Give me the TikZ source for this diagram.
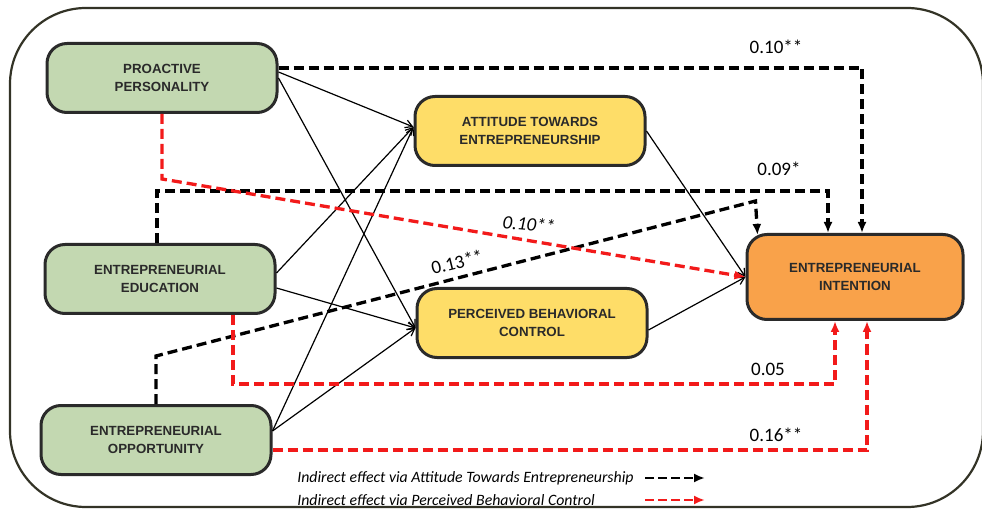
\documentclass[tikz,border=0pt]{standalone}
\usepackage{fontspec}
\setmainfont{Carlito}
\newfontfamily\boxfont{Liberation Sans}
\usepackage{xcolor}
\usetikzlibrary{arrows.meta, positioning, calc}
\definecolor{exogreen}{HTML}{C3D8B1}
\definecolor{mediyellow}{HTML}{FEDD68}
\definecolor{outorange}{HTML}{F9A24A}
\definecolor{boxline}{HTML}{2A2A2A}
\definecolor{pathred}{HTML}{F21A1A}

\begin{document}
\begin{tikzpicture}[x=1pt,y=-1pt,>={Straight Barb[length=7pt,width=8pt]},semithick]
          \tikzstyle{construct}=[draw=boxline,line width=3pt,rounded corners=20pt,align=center,
                                 font=\boxfont\bfseries\fontsize{13.3}{18}\selectfont,text=boxline,
                                 minimum width=230pt,minimum height=69pt]
          \tikzstyle{direct}=[->,line width=1.2pt]
          \tikzstyle{viaatt}=[-{Latex[length=11pt,width=9pt]},line width=3.3pt,dash pattern=on 10pt off 5pt]
          \tikzstyle{viapbc}=[viaatt,pathred]
          \tikzstyle{coef}=[font=\fontsize{19}{22}\selectfont,inner sep=0pt]
          \tikzstyle{legendtext}=[font=\itshape\fontsize{15.8}{18}\selectfont,inner sep=0pt,anchor=west]

          \clip (0,0) rectangle (982,510);
          \draw[line width=2.2pt,color=boxline!90!olive,rounded corners=76pt] (10,8) rectangle (983,507);

          % constructs
          \node[construct,fill=exogreen] (pp) at (162,78) {PROACTIVE\\PERSONALITY};
          \node[construct,fill=exogreen] (ee) at (160,279) {ENTREPRENEURIAL\\EDUCATION};
          \node[construct,fill=exogreen] (eo) at (156,440) {ENTREPRENEURIAL\\OPPORTUNITY};
          \node[construct,fill=mediyellow] (ate) at (530,131) {ATTITUDE TOWARDS\\ENTREPRENEURSHIP};
          \node[construct,fill=mediyellow] (pbc) at (532,323) {PERCEIVED BEHAVIORAL\\CONTROL};
          \node[construct,fill=outorange,minimum width=216pt,minimum height=85pt] (ei) at (855,277) {ENTREPRENEURIAL\\INTENTION};

          % direct paths
          \draw[direct] ($(pp.east)+(0,-6)$) -- ($(ate.west)+(0,-4)$);
          \draw[direct] (pp.east) -- ($(pbc.west)+(0,5)$);
          \draw[direct] ($(ee.east)+(0,-6)$) -- ($(ate.west)+(0,-4)$);
          \draw[direct] ($(ee.east)+(0,9)$) -- ($(pbc.west)+(0,5)$);
          \draw[direct] ($(eo.east)+(0,-9)$) -- ($(ate.west)+(0,-4)$);
          \draw[direct] ($(eo.east)+(0,-9)$) -- ($(pbc.west)+(0,5)$);
          \draw[direct] (ate.east) -- (ei.west);
          \draw[direct] ($(pbc.east)+(0,7)$) -- (ei.west);

          % indirect effects via attitude
          \draw[viaatt] ($(pp.east)+(0,-10)$) -| ($(ei.north)+(7,0)$);
          \draw[viaatt] ($(ee.north)+(-3,0)$) -- ++(0,-52) -| ($(ei.north)+(-27,0)$);
          \draw[viaatt] (eo.north) -- ++(0,-48) -- ($(ei.north west)+(10,-32)$) -- ($(ei.north west)+(12,2)$);

          % indirect effects via perceived control
          \draw[viapbc] (pp.south) -- ++(0,65) -- (ei.west);
          \draw[viapbc] ($(ee.south)+(73,0)$) -- ++(0,69) -| ($(ei.south)+(-20,0)$);
          \draw[viapbc] ($(eo.east)+(0,10)$) -| ($(ei.south)+(12,0)$);

          \node[coef] (c1) at (776,47) {0.10**};
          \node[coef] (c2) at (779,169) {0.09*};
          \node[coef,rotate=-5,font=\itshape\fontsize{19}{22}\selectfont] (c3) at (529,224) {0.10**};
          \node[coef,rotate=14] (c4) at (457,262) {0.13**};
          \node[coef] (c5) at (768,369) {0.05};
          \node[coef] (c6) at (776,435) {0.16**};

          % legend
          \node[legendtext] (lega) at (297,478) {Indirect effect via Attitude Towards Entrepreneurship};
          \node[legendtext] (legb) at (297,500) {Indirect effect via Perceived Behavioral Control};
          \coordinate (lega1) at (645,478);
          \coordinate (lega2) at (705,478);
          \coordinate (legb1) at (645,500);
          \coordinate (legb2) at (705,500);
          \draw[viaatt,line width=2.6pt,dash pattern=on 9pt off 4pt] (lega1) -- (lega2);
          \draw[viapbc,line width=2.6pt,dash pattern=on 9pt off 4pt] (legb1) -- (legb2);
\end{tikzpicture}
\end{document}
